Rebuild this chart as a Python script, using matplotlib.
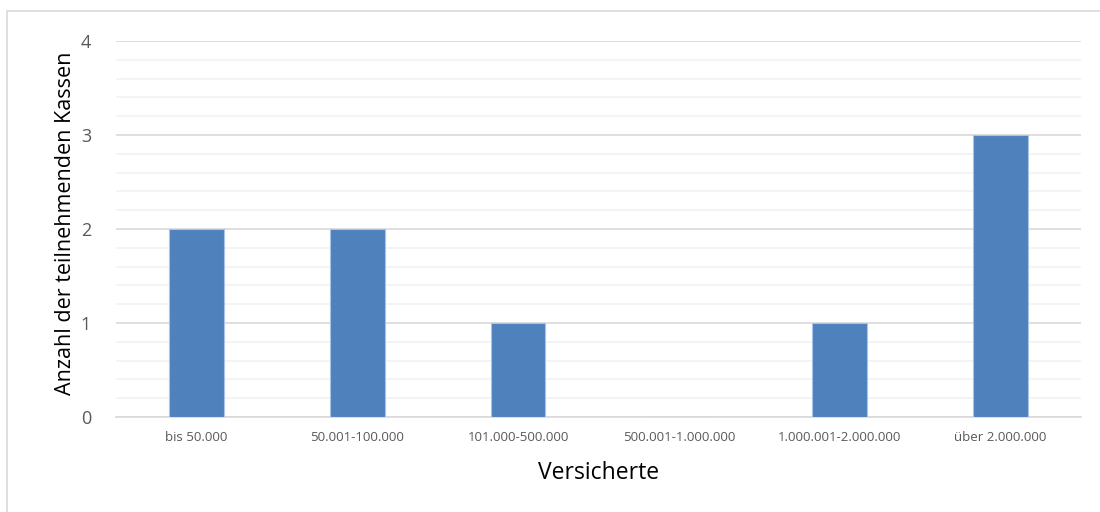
import numpy as np
import matplotlib.pyplot as plt
from matplotlib.patches import Rectangle

# data
categories = ['bis 50.000', '50.001-100.000', '101.000-500.000',
              '500.001-1.000.000', '1.000.001-2.000.000', 'über 2.000.000']
kassen = [2, 2, 1, 0, 1, 3]

plt.rcParams['font.family'] = ['Open Sans', 'DejaVu Sans']

fig = plt.figure(figsize=(11, 5.12), dpi=100)
# outer chart frame (only left/top edges are visible in the reference)
fig.patches.append(Rectangle((7 / 1100, -0.05), 1.2, 1 - 11 / 512 + 0.05,
                             transform=fig.transFigure, fill=False,
                             edgecolor='#d9d9d9', linewidth=1.2))

ax = fig.add_axes([116 / 1100, 1 - 417 / 512, (1081 - 116) / 1100, (417 - 41) / 512])
x = np.arange(len(categories))
ax.bar(x, kassen, width=0.34, color='#4f81bd', edgecolor='#a9c4e8',
       linewidth=0.8, zorder=3)

ax.set_xlim(-0.5, len(categories) - 0.5)
ax.set_ylim(0, 4)
ax.set_yticks([0, 1, 2, 3, 4])
ax.set_yticks(np.arange(0, 4.01, 0.2), minor=True)
ax.grid(axis='y', which='major', color='#d9d9d9', linewidth=1.2, zorder=0)
ax.grid(axis='y', which='minor', color='#f2f2f2', linewidth=1.2, zorder=0)
ax.set_xticks(x)
ax.set_xticklabels(categories, fontsize=9.5, color='#595959')
ax.tick_params(axis='y', which='both', length=0, labelsize=13, labelcolor='#595959', pad=18)
ax.tick_params(axis='x', length=0, pad=10)
for s in ['top', 'right', 'left']:
    ax.spines[s].set_visible(False)
ax.spines['bottom'].set_color('#d9d9d9')
ax.spines['bottom'].set_linewidth(1.2)

ax.set_xlabel('Versicherte', fontsize=16.5, color='black', labelpad=12)
ax.set_ylabel('Anzahl der teilnehmenden Kassen', fontsize=15.5, color='black')
ax.yaxis.set_label_coords(-0.041, 0.516)

fig.savefig('out.png', dpi=100)
